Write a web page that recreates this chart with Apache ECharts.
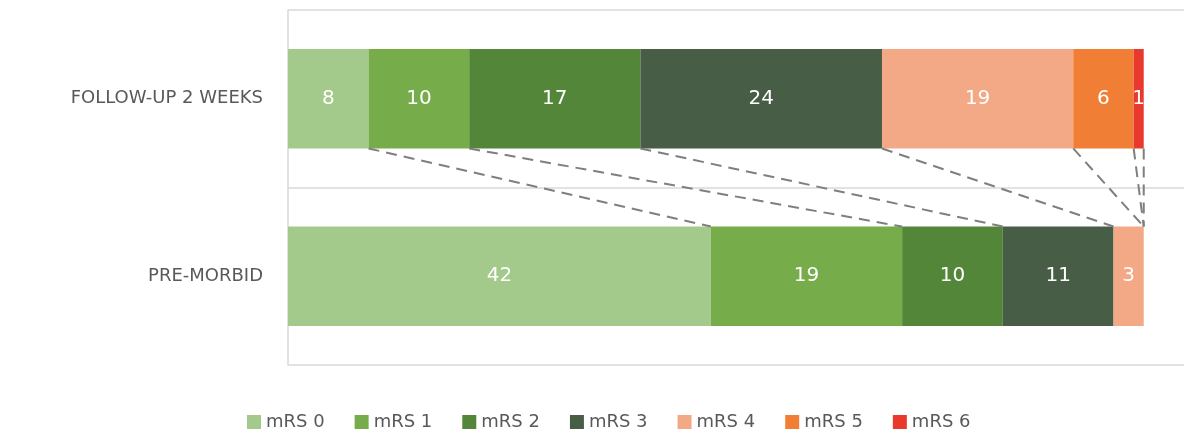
<!DOCTYPE html>
<html>
<head>
<meta charset="utf-8">
<script src="https://cdn.jsdelivr.net/npm/echarts@6/dist/echarts.min.js"></script>
<style>
html,body{margin:0;padding:0;background:#fff;}
#chart{width:1184px;height:432px;}
</style>
</head>
<body>
<div id="chart"></div>
<script>
const categories = ['PRE-MORBID', 'FOLLOW-UP 2 WEEKS'];
const seriesNames = ['mRS 0', 'mRS 1', 'mRS 2', 'mRS 3', 'mRS 4', 'mRS 5', 'mRS 6'];
const followUp = [8, 10, 17, 24, 19, 6, 1];
const preMorbid = [42, 19, 10, 11, 3, 0, 0];
const colors = ['#a3c98b', '#77ac4a', '#548639', '#475d45', '#f3a985', '#f07f35', '#e9382c'];

const BAR_RATIO = 0.56;
const textColor = '#595959';
const fontFam = '"DejaVu Sans", sans-serif';

// cumulative boundaries for connector lines (derived from the data arrays)
const links = [];
let cTop = 0, cBot = 0;
for (let i = 0; i < followUp.length; i++) {
  cTop += followUp[i];
  cBot += preMorbid[i];
  links.push([cTop, 1, cBot, 0]);
}

const barSeries = seriesNames.map((name, i) => ({
  name: name,
  type: 'bar',
  stack: 'total',
  barWidth: (BAR_RATIO * 100) + '%',
  itemStyle: { color: colors[i] },
  label: {
    show: true,
    position: 'inside',
    color: '#ffffff',
    fontSize: 20,
    fontFamily: fontFam,
    formatter: p => (p.value > 0 ? String(p.value) : '')
  },
  emphasis: { disabled: true },
  data: [preMorbid[i], followUp[i]]
}));

const linkSeries = {
  name: 'links',
  type: 'custom',
  silent: true,
  z: 5,
  encode: { x: [0, 2], y: [1, 3] },
  renderItem: function (params, api) {
    const top = api.coord([api.value(0), api.value(1)]);
    const bot = api.coord([api.value(2), api.value(3)]);
    const band = api.size([0, 1])[1];
    const half = band * BAR_RATIO / 2;
    return {
      type: 'line',
      shape: { x1: top[0], y1: top[1] + half, x2: bot[0], y2: bot[1] - half },
      style: { stroke: '#7f7f7f', lineWidth: 2, lineDash: [11, 7] }
    };
  },
  data: links
};

const chart = echarts.init(document.getElementById('chart'));
chart.setOption({
  animation: false,
  backgroundColor: '#ffffff',
  grid: { left: 288, right: 0, top: 10, bottom: 67, containLabel: false },
  legend: {
    data: seriesNames,
    left: 242,
    top: 408,
    icon: 'rect',
    itemWidth: 14,
    itemHeight: 14,
    itemGap: 30,
    textStyle: { color: textColor, fontSize: 18, fontFamily: fontFam }
  },
  xAxis: {
    type: 'value',
    min: 0,
    max: 89,
    show: false
  },
  yAxis: {
    type: 'category',
    data: categories,
    axisLine: { show: true, lineStyle: { color: '#d9d9d9', width: 1.5 } },
    axisTick: { show: false },
    splitLine: { show: true, lineStyle: { color: '#d9d9d9', width: 1.5 } },
    axisLabel: {
      color: textColor,
      fontSize: 18,
      fontFamily: fontFam,
      margin: 25
    }
  },
  series: barSeries.concat([linkSeries])
});
</script>
</body>
</html>
